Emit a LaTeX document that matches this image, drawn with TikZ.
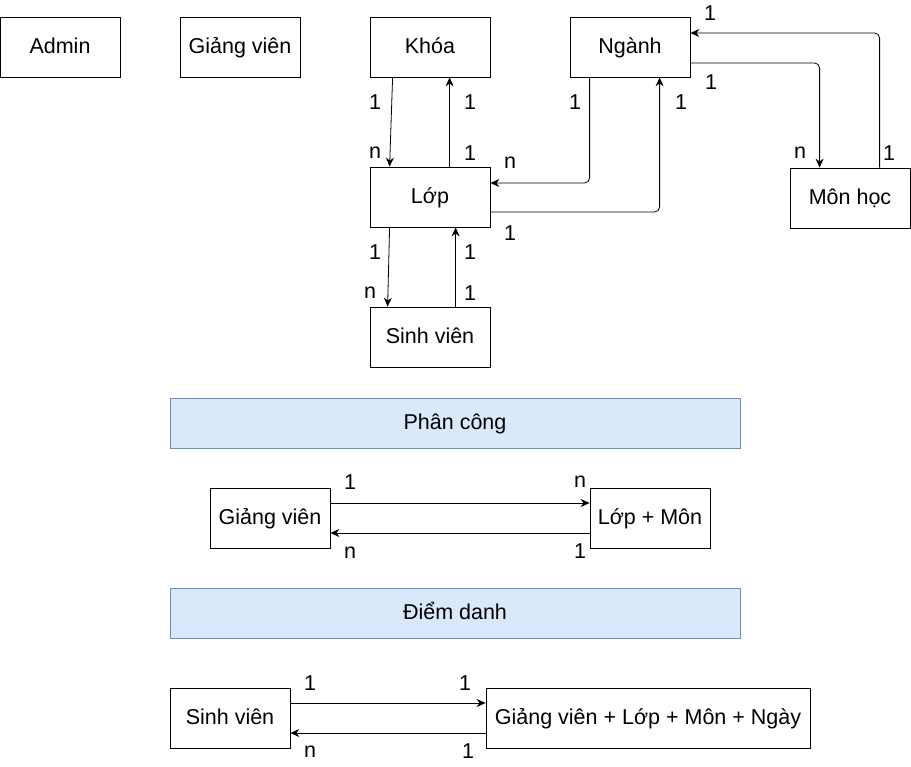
\documentclass[tikz,border=0pt]{standalone}
\usepackage{fontspec}
\setmainfont{Liberation Sans}
\usetikzlibrary{arrows.meta,calc}
\definecolor{barfill}{HTML}{DAE8FC}
\definecolor{bardraw}{HTML}{6C8EBF}
\tikzset{
  ent/.style={draw, line width=0.8pt, minimum width=120pt, minimum height=60pt, inner sep=1pt, text height=15.5pt, text depth=2pt, font=\fontsize{21.5}{25}\selectfont},
  bar/.style={draw=bardraw, fill=barfill, line width=0.8pt, minimum width=570pt, minimum height=50pt, text height=15.5pt, text depth=2pt, font=\fontsize{21.5}{25}\selectfont},
  lab/.style={font=\fontsize{21.5}{25}\selectfont, inner sep=0pt},
  con/.style={line width=0.8pt, -{Stealth[length=9pt,width=8pt,inset=3pt]}, rounded corners=5pt},
}
\begin{document}
\begin{tikzpicture}[x=1pt,y=-1pt]
\useasboundingbox (0,0) rectangle (911,767);
% entities
\node[ent] (admin) at (60,47) {Admin};
\node[ent] (gv) at (240,47) {Giảng viên};
\node[ent] (khoa) at (430,47) {Khóa};
\node[ent] (nganh) at (630,47) {Ngành};
\node[ent] (lop) at (430,197) {Lớp};
\node[ent] (mon) at (850,198) {Môn học};
\node[ent] (sv) at (430,337) {Sinh viên};
% connectors top
\draw[con] ($(khoa.south west)+(23,0)$) -- ($(lop.north west)+(20,0)$);
\draw[con] ($(lop.north west)+(80,0)$) -- ($(khoa.south west)+(80,0)$);
\draw[con] ($(nganh.south west)+(20,0)$) |- ($(lop.east)+(0,-14)$);
\draw[con] ($(lop.east)+(0,15)$) -| ($(nganh.south west)+(90,0)$);
\draw[con] ($(nganh.east)+(0,16)$) -| ($(mon.north west)+(30,0)$);
\draw[con] ($(mon.north west)+(90,0)$) |- ($(nganh.east)+(0,-14)$);
\draw[con] ($(lop.south west)+(20,0)$) -- ($(sv.north west)+(18,0)$);
\draw[con] ($(sv.north west)+(86,0)$) -- ($(lop.south west)+(86,0)$);
% labels top
\node[lab] (a1) at (375,102) {1};
\node[lab] (a2) at (375,153) {n};
\node[lab] (a3) at (470,102) {1};
\node[lab] (a4) at (470,153) {1};
\node[lab] (a5) at (575,102) {1};
\node[lab] (a6) at (510,163) {n};
\node[lab] (a7) at (681,102) {1};
\node[lab] (a8) at (510,233) {1};
\node[lab] (a9) at (711,82) {1};
\node[lab] (a10) at (800,153) {n};
\node[lab] (a11) at (710,13) {1};
\node[lab] (a12) at (889,153) {1};
\node[lab] (a13) at (375,252) {1};
\node[lab] (a14) at (370,293) {n};
\node[lab] (a15) at (470,252) {1};
\node[lab] (a16) at (470,293) {1};
% Phân công
\node[bar] (pc) at (455,423) {Phân công};
\node[ent] (gv2) at (270,518) {Giảng viên};
\node[ent] (lm) at (650,518) {Lớp + Môn};
\draw[con] ($(gv2.east)+(0,-15)$) -- ($(lm.west)+(0,-15)$);
\draw[con] ($(lm.west)+(0,15)$) -- ($(gv2.east)+(0,15)$);
\node[lab] (b1) at (350,482) {1};
\node[lab] (b2) at (580,482) {n};
\node[lab] (b3) at (350,553) {n};
\node[lab] (b4) at (580,551) {1};
% Điểm danh
\node[bar] (dd) at (455,613) {Điểm danh};
\node[ent] (sv2) at (230,718) {Sinh viên};
\node[ent, minimum width=324pt] (tong) at (648,718) {Giảng viên + Lớp + Môn + Ngày};
\draw[con] ($(sv2.east)+(0,-15)$) -- ($(tong.west)+(0,-15)$);
\draw[con] ($(tong.west)+(0,15)$) -- ($(sv2.east)+(0,15)$);
\node[lab] (c1) at (310,683) {1};
\node[lab] (c2) at (465,683) {1};
\node[lab] (c3) at (310,752) {n};
\node[lab] (c4) at (468,751) {1};
\end{tikzpicture}
\end{document}
